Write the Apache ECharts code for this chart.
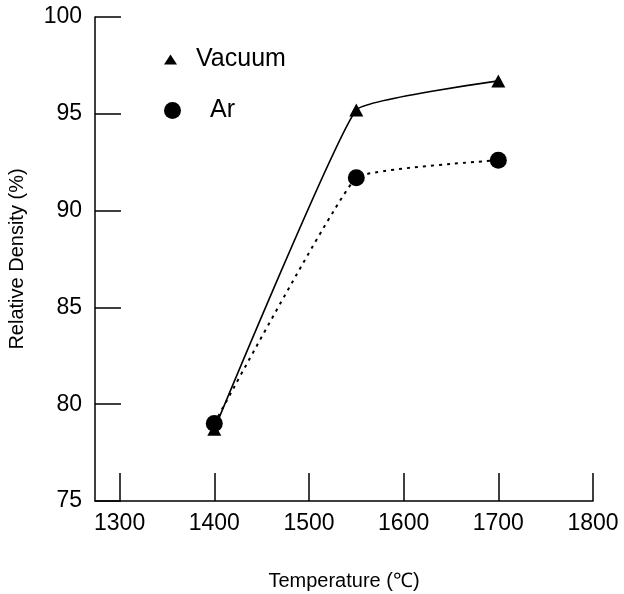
<!DOCTYPE html>
<html>
<head>
<meta charset="utf-8">
<script src="https://cdn.jsdelivr.net/npm/echarts@6/dist/echarts.min.js"></script>
<style>
  html, body { margin: 0; padding: 0; background: #fff; }
  #chart { width: 624px; height: 594px; }
</style>
</head>
<body>
<div id="chart"></div>
<script>
// Sintering temperature vs. relative density, two atmospheres
var temperatures = [1400, 1550, 1700];
var vacuumDensity = [78.7, 95.2, 96.7];
var argonDensity = [79.0, 91.7, 92.6];
var xTickValues = [1300, 1400, 1500, 1600, 1700, 1800];
var seriesNames = ['Vacuum', 'Ar'];

function pairs(xs, ys) {
  return xs.map(function (x, i) { return [x, ys[i]]; });
}

var font = 'Liberation Sans, Arial, sans-serif';
var chart = echarts.init(document.getElementById('chart'), null, { renderer: 'canvas' });

chart.setOption({
  backgroundColor: '#ffffff',
  animation: false,
  grid: { left: 95, right: 31, top: 17, bottom: 93, outerBoundsMode: 'none', containLabel: false },
  legend: [
    {
      data: [{ name: seriesNames[0], icon: 'triangle' }],
      left: 159, top: 42,
      itemWidth: 13, itemHeight: 10,
      textStyle: { fontFamily: font, fontSize: 25, color: '#000', padding: [0, 0, 0, 14] },
      selectedMode: false
    },
    {
      data: [{ name: seriesNames[1], icon: 'circle' }],
      left: 159, top: 93,
      itemWidth: 17, itemHeight: 17,
      textStyle: { fontFamily: font, fontSize: 25, color: '#000', padding: [0, 0, 0, 24] },
      selectedMode: false
    }
  ],
  xAxis: {
    type: 'value',
    min: 1274, max: 1800,
    name: 'Temperature (\u2103)',
    nameLocation: 'middle',
    nameGap: 70,
    nameTextStyle: { fontFamily: font, fontSize: 20, color: '#000' },
    axisLine: { show: true, lineStyle: { color: '#000', width: 1.5 } },
    axisTick: { show: true, inside: true, length: 28, customValues: xTickValues, lineStyle: { color: '#000', width: 1.5 } },
    axisLabel: {
      customValues: xTickValues, fontFamily: font, fontSize: 23, color: '#000', margin: 11,
      formatter: function (v) { return String(v); }
    },
    splitLine: { show: false }
  },
  yAxis: {
    type: 'value',
    min: 75, max: 100, interval: 5,
    name: 'Relative Density (%)',
    nameLocation: 'middle',
    nameGap: 68,
    nameRotate: 90,
    nameTextStyle: { fontFamily: font, fontSize: 20, color: '#000' },
    axisLine: { show: true, lineStyle: { color: '#000', width: 1.5 } },
    axisTick: { show: true, inside: true, length: 26, lineStyle: { color: '#000', width: 1.5 } },
    axisLabel: { fontFamily: font, fontSize: 23, color: '#000', margin: 13 },
    splitLine: { show: false }
  },
  series: [
    {
      name: seriesNames[0],
      type: 'line',
      data: pairs(temperatures, vacuumDensity),
      smooth: 0.1,
      symbol: 'triangle',
      symbolSize: [14, 13],
      itemStyle: { color: '#000' },
      lineStyle: { color: '#000', width: 1.6, type: 'solid' },
      z: 2
    },
    {
      name: seriesNames[1],
      type: 'line',
      data: pairs(temperatures, argonDensity),
      smooth: 0.1,
      symbol: 'circle',
      symbolSize: 17,
      itemStyle: { color: '#000' },
      lineStyle: { color: '#000', width: 2, type: [3, 5] },
      z: 3
    }
  ]
});
</script>
</body>
</html>
